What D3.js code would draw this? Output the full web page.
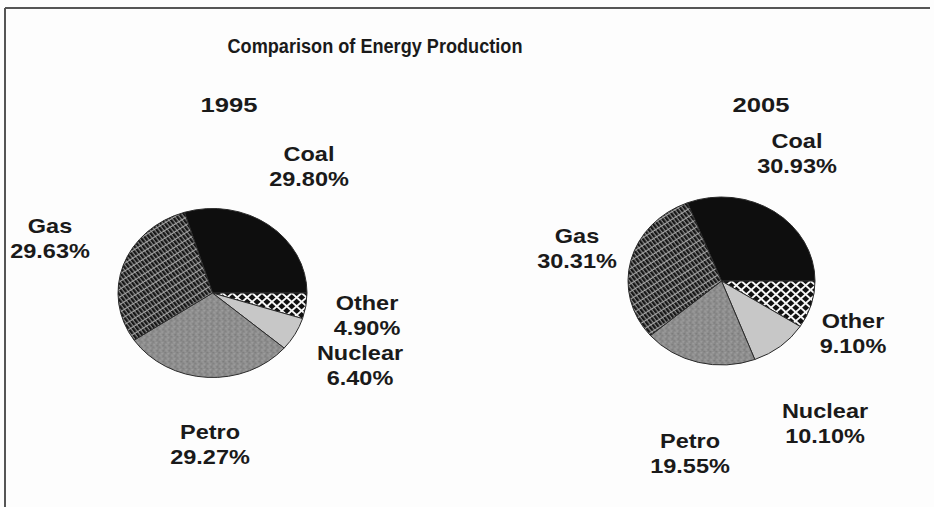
<!DOCTYPE html>
<html>
<head>
<meta charset="utf-8">
<script src="https://cdn.jsdelivr.net/npm/d3@7"></script>
<style>
  html, body { margin: 0; padding: 0; background: #fdfdfd; }
  svg { display: block; }
  text { font-family: "Liberation Sans", Arial, sans-serif; font-weight: bold; fill: #1a1a1a; }
</style>
</head>
<body>
<svg id="chart" width="934" height="507"></svg>
<script>
// ---- data ----
const title = "Comparison of Energy Production";
const years = ["1995", "2005"];
const categories = ["Coal", "Other", "Nuclear", "Petro", "Gas"];
const values1995 = [29.80, 4.90, 6.40, 29.27, 29.63];
const values2005 = [30.93, 9.10, 10.10, 19.55, 30.31];

// ---- layout (not data) ----
const W = 934, H = 507;
const pieLayout = [
  { cx: 212.5, cy: 293, rx: 94.5, ry: 84.5, yearX: 229, yearY: 112,
    labels: { Coal: [309, 161], Gas: [50, 233], Other: [367, 310], Nuclear: [360, 360], Petro: [210, 439] } },
  { cx: 721.5, cy: 281, rx: 93.5, ry: 84, yearX: 761, yearY: 112,
    labels: { Coal: [797, 148], Gas: [577, 243], Other: [853, 328], Nuclear: [825, 418], Petro: [690, 448] } }
];
const lineGap = 25;
const labelSize = 21, labelStretch = 1.12;
const yearSize = 21, yearStretch = 1.22;

const svg = d3.select("#chart");
svg.append("rect").attr("width", W).attr("height", H).attr("fill", "#fdfdfd");

// ---- patterns ----
const defs = svg.append("defs");
// Other: white with black diamonds
const pOther = defs.append("pattern").attr("id", "pOther").attr("patternUnits", "userSpaceOnUse")
  .attr("width", 7).attr("height", 7).attr("patternTransform", "rotate(45)");
pOther.append("rect").attr("width", 7).attr("height", 7).attr("fill", "#f6f6f6");
pOther.append("rect").attr("x", 1).attr("y", 1).attr("width", 5).attr("height", 5).attr("fill", "#111");
// Gas: grey with dark diagonal dashes
const pGas = defs.append("pattern").attr("id", "pGas").attr("patternUnits", "userSpaceOnUse")
  .attr("width", 7).attr("height", 3.6).attr("patternTransform", "rotate(55)");
pGas.append("rect").attr("width", 7).attr("height", 3.6).attr("fill", "#a8a8a8");
pGas.append("rect").attr("x", 0).attr("y", 0.3).attr("width", 5.8).attr("height", 2.6).attr("fill", "#161616");
// Petro: mottled mid gray
const pPetro = defs.append("pattern").attr("id", "pPetro").attr("patternUnits", "userSpaceOnUse")
  .attr("width", 6).attr("height", 6);
pPetro.append("rect").attr("width", 6).attr("height", 6).attr("fill", "#8e8e8e");
[[0,0,"#7a7a7a"],[3,1,"#a3a3a3"],[1,3,"#a0a0a0"],[4,4,"#777"],[2,5,"#9a9a9a"],[5,2,"#808080"]].forEach(d => {
  pPetro.append("rect").attr("x", d[0]).attr("y", d[1]).attr("width", 1.5).attr("height", 1.5).attr("fill", d[2]);
});

const fills = d3.scaleOrdinal()
  .domain(categories)
  .range(["#0e0e0e", "url(#pOther)", "#c7c7c7", "url(#pPetro)", "url(#pGas)"]);

// ---- frame ----
svg.append("line").attr("x1", 5).attr("y1", 8).attr("x2", 930).attr("y2", 8)
  .attr("stroke", "#555").attr("stroke-width", 2);
svg.append("line").attr("x1", 5).attr("y1", 8).attr("x2", 5).attr("y2", H)
  .attr("stroke", "#555").attr("stroke-width", 2);

function stretchedText(x, y, size, sx, str) {
  svg.append("text")
    .attr("transform", `translate(${x},${y}) scale(${sx},1)`)
    .attr("text-anchor", "middle")
    .attr("font-size", size)
    .text(str);
}

// ---- title ----
stretchedText(375, 53, 19.5, 0.93, title);

// ---- pies ----
const series = [values1995, values2005];
const fmt = d3.format(".2f");

series.forEach((vals, i) => {
  const L = pieLayout[i];
  const total = d3.sum(vals);
  const start = Math.PI / 2 - (vals[0] / total) * 2 * Math.PI; // coal ends at 3 o'clock
  const arc = d3.arc().innerRadius(0).outerRadius(L.rx);
  const arcs = d3.pie().sort(null).value(d => d.v).startAngle(start).endAngle(start + 2 * Math.PI)(
    vals.map((v, k) => ({ cat: categories[k], v })));

  const g = svg.append("g")
    .attr("transform", `translate(${L.cx},${L.cy}) scale(1,${L.ry / L.rx})`);
  g.selectAll("path").data(arcs).join("path")
    .attr("d", arc)
    .attr("fill", d => fills(d.data.cat))
    .attr("stroke", "#2a2a2a")
    .attr("stroke-width", 1)
    .attr("vector-effect", "non-scaling-stroke");

  stretchedText(L.yearX, L.yearY, yearSize, yearStretch, years[i]);

  arcs.forEach(d => {
    const pos = L.labels[d.data.cat];
    stretchedText(pos[0], pos[1], labelSize, labelStretch, d.data.cat);
    stretchedText(pos[0], pos[1] + lineGap, labelSize, labelStretch, fmt(d.data.v) + "%");
  });
});
</script>
</body>
</html>
